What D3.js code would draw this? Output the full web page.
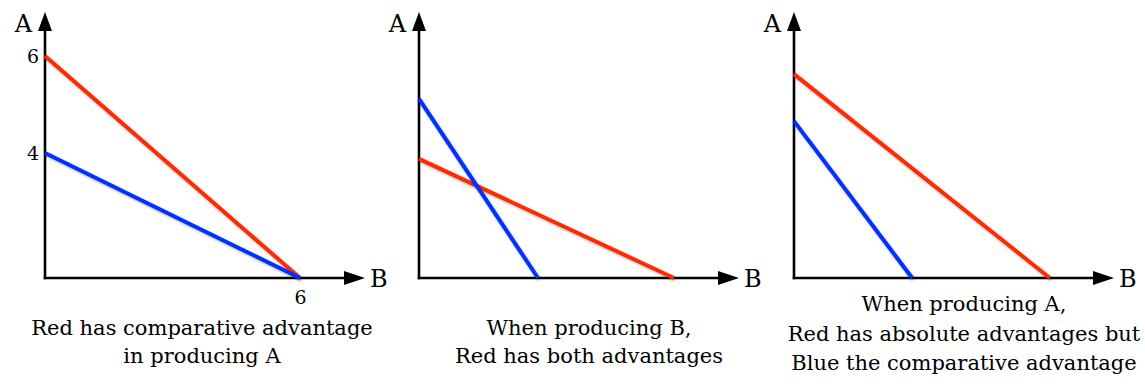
<!DOCTYPE html>
<html>
<head>
<meta charset="utf-8">
<script src="https://cdn.jsdelivr.net/npm/d3@7"></script>
<style>
  html, body { margin: 0; padding: 0; background: #ffffff; }
  svg { display: block; }
</style>
</head>
<body>
<svg id="chart" width="1145" height="388"></svg>
<script>
// ---------- data ----------
const axisNames = ["A", "B"];              // vertical, horizontal
const seriesNames = ["Red", "Blue"];
const seriesColors = ["#ff2a00", "#0030ff"];
// intercepts per panel: [A-intercept, B-intercept]
const redIntercepts  = [[6.0, 6.0], [3.22, 6.0], [5.51, 6.02]];
const blueIntercepts = [[3.38, 6.0], [4.84, 2.8], [4.24, 2.78]];
// tick marks (panel 1 only)
const yTickValues = [6.0, 3.38];
const yTickLabels = ["6", "4"];
const xTickValues = [6.0];
const xTickLabels = ["6"];
const captions = [
  ["Red has comparative advantage", "in producing A"],
  ["When producing B,", "Red has both advantages"],
  ["When producing A,", "Red has absolute advantages but", "Blue the comparative advantage"]
];

// ---------- layout ----------
const svg = d3.select("#chart");
const originsX = [45, 419, 794];
const captionOffsets = [157, 170, 170];
const originY = 278;
const xMaxVal = 7.53, yMaxVal = 7.19;

const defs = svg.append("defs");
const f = defs.append("filter").attr("id", "shadow")
  .attr("x", "-10%").attr("y", "-10%").attr("width", "130%").attr("height", "130%");
f.append("feDropShadow").attr("dx", 1).attr("dy", 1.5).attr("stdDeviation", 1)
  .attr("flood-color", "#000").attr("flood-opacity", 0.3);

const fontSerif = "'DejaVu Serif', 'Liberation Serif', serif";

originsX.forEach((ox, i) => {
  const x = d3.scaleLinear().domain([0, 6]).range([ox, ox + 255]);
  const y = d3.scaleLinear().domain([0, 6]).range([originY, 56]);
  const g = svg.append("g");

  // axes with arrows
  const xTip = x(xMaxVal), yTip = y(yMaxVal);
  g.append("line").attr("x1", x(0)).attr("y1", y(0)).attr("x2", xTip - 10).attr("y2", y(0))
    .attr("stroke", "#000").attr("stroke-width", 2.6).attr("stroke-linecap", "square");
  g.append("line").attr("x1", x(0)).attr("y1", y(0)).attr("x2", x(0)).attr("y2", yTip + 10)
    .attr("stroke", "#000").attr("stroke-width", 2.6).attr("stroke-linecap", "square");
  g.append("path")
    .attr("d", `M${xTip},${y(0)} L${xTip - 21},${y(0) - 7} L${xTip - 21},${y(0) + 7} Z`)
    .attr("fill", "#000");
  g.append("path")
    .attr("d", `M${x(0)},${yTip} L${x(0) - 7},${yTip + 19} L${x(0) + 7},${yTip + 19} Z`)
    .attr("fill", "#000");

  g.append("text").attr("x", x(0) - 13).attr("y", yTip + 20)
    .attr("text-anchor", "end").attr("font-family", fontSerif).attr("font-size", 24)
    .text(axisNames[0]);
  g.append("text").attr("x", xTip + 5).attr("y", y(0) + 9)
    .attr("text-anchor", "start").attr("font-family", fontSerif).attr("font-size", 24)
    .text(axisNames[1]);

  // ticks on first panel
  if (i === 0) {
    const ya = d3.axisLeft(y).tickValues(yTickValues).tickSize(0).tickPadding(6)
      .tickFormat((d, k) => yTickLabels[k]);
    const ga = g.append("g").attr("transform", `translate(${x(0)},0)`).call(ya);
    ga.select(".domain").remove();
    ga.selectAll("text").attr("font-family", fontSerif).attr("font-size", 19).attr("fill", "#000");
    const xa = d3.axisBottom(x).tickValues(xTickValues).tickSize(0).tickPadding(13)
      .tickFormat((d, k) => xTickLabels[k]);
    const gx = g.append("g").attr("transform", `translate(0,${y(0)})`).call(xa);
    gx.select(".domain").remove();
    gx.selectAll("text").attr("font-family", fontSerif).attr("font-size", 19).attr("fill", "#000");
  }

  // PPF lines
  const line = d3.line().x(d => x(d[0])).y(d => y(d[1]));
  [redIntercepts[i], blueIntercepts[i]].forEach((ic, s) => {
    g.append("path")
      .datum([[0, ic[0]], [ic[1], 0]])
      .attr("d", line)
      .attr("fill", "none")
      .attr("stroke", seriesColors[s])
      .attr("stroke-width", 4)
      .attr("filter", "url(#shadow)");
  });

  // captions
  const lines = captions[i];
  const cx = ox + captionOffsets[i];
  const startY = lines.length === 3 ? 311 : 335;
  const step = lines.length === 3 ? 29.5 : 27.5;
  lines.forEach((t, k) => {
    g.append("text").attr("x", cx).attr("y", startY + k * step)
      .attr("text-anchor", "middle").attr("font-family", fontSerif).attr("font-size", 21)
      .attr("fill", "#000")
      .text(t);
  });
});
</script>
</body>
</html>
